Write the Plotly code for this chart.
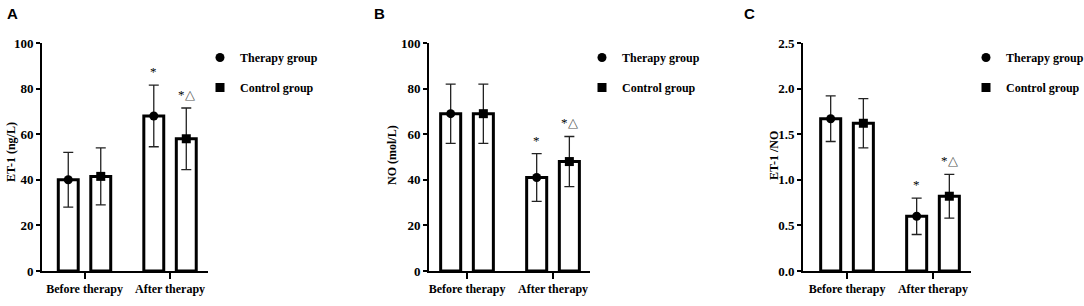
import plotly.graph_objects as go
import numpy as np

W, H = 1084, 306

categories = ["Before therapy", "After therapy"]
series_names = ["Therapy group", "Control group"]

# Panel A: ET-1 (ng/L)
et1_therapy = [40.0, 68.0]
et1_therapy_sd = [12.0, 13.5]
et1_control = [41.5, 58.0]
et1_control_sd = [12.5, 13.5]

# Panel B: NO (mol/L)
no_therapy = [69.0, 41.0]
no_therapy_sd = [13.0, 10.5]
no_control = [69.0, 48.0]
no_control_sd = [13.0, 11.0]

# Panel C: ET-1/NO
ratio_therapy = [1.67, 0.60]
ratio_therapy_sd = [0.25, 0.20]
ratio_control = [1.62, 0.82]
ratio_control_sd = [0.27, 0.24]

# significance marks (per category index): therapy, control
sig_therapy = ["", "*"]
sig_control = ["", "*<span style='color:#555'>△</span>"]

panels = [
    dict(letter="A", title="ET-1 (ng/L)", data=(et1_therapy, et1_therapy_sd, et1_control, et1_control_sd),
         yrange=[0, 100], dtick=20, fmt="d", px=(42, 208), xr=[-0.497, 1.444], title_x=11, title_y=152,
         letter_x=5, legend_x=221),
    dict(letter="B", title="NO (mol/L)", data=(no_therapy, no_therapy_sd, no_control, no_control_sd),
         yrange=[0, 100], dtick=20, fmt="d", px=(429, 590), xr=[-0.442, 1.43], title_x=392, title_y=155,
         letter_x=372, legend_x=603),
    dict(letter="C", title="ET-1 /NO", data=(ratio_therapy, ratio_therapy_sd, ratio_control, ratio_control_sd),
         yrange=[0, 2.5], dtick=0.5, fmt=".1f", px=(803, 971), xr=[-0.512, 1.442], title_x=774, title_y=156,
         letter_x=742, legend_x=987),
]

y_top, y_bot = 43, 271
ydom = [(H - y_bot) / H, (H - y_top) / H]

bar_w = 0.233
off = 0.19
serif = "Liberation Serif"

fig = go.Figure()
annotations = []
layout = {}

for i, p in enumerate(panels):
    k = "" if i == 0 else str(i + 1)
    xa, ya = "x" + k, "y" + k
    leg = "legend" + k
    t_mean, t_sd, c_mean, c_sd = p["data"]
    idx = np.arange(len(categories))
    for j, (mean, sd, sym) in enumerate([(t_mean, t_sd, "circle"), (c_mean, c_sd, "square")]):
        xpos = idx + (-off if j == 0 else off)
        fig.add_trace(go.Bar(
            x=xpos, y=mean, width=bar_w, xaxis=xa, yaxis=ya,
            marker=dict(color="white", line=dict(color="black", width=3)),
            error_y=dict(type="data", array=sd, visible=True, color="#222", thickness=1.3, width=5),
            showlegend=False, hoverinfo="skip"))
        fig.add_trace(go.Scatter(
            x=xpos, y=mean, mode="markers", xaxis=xa, yaxis=ya,
            marker=dict(symbol=sym, size=9, color="black"),
            name=series_names[j], legend=leg, legendgroup=f"{i}{j}", showlegend=True))
        sig = sig_therapy if j == 0 else sig_control
        for ci in idx:
            if sig[ci]:
                annotations.append(dict(
                    x=xpos[ci], y=mean[ci] + sd[ci], xref=xa, yref=ya, text=sig[ci],
                    showarrow=False, yanchor="bottom", yshift=4,
                    font=dict(family=serif, size=13, color="black")))
    x0, x1 = p["px"]
    axkey = "xaxis" + k
    aykey = "yaxis" + k
    layout[axkey] = dict(
        domain=[x0 / W, x1 / W], range=p["xr"], anchor=ya,
        tickmode="array", tickvals=list(idx), ticktext=categories,
        showline=True, linewidth=2, linecolor="black", ticks="outside", ticklen=6, tickwidth=2,
        tickcolor="black", showgrid=False, zeroline=False, fixedrange=True,
        tickfont=dict(family=serif, size=12, color="black", weight="bold"))
    layout[aykey] = dict(
        domain=ydom, range=p["yrange"], anchor=xa, dtick=p["dtick"], tickformat=p["fmt"],
        showline=True, linewidth=2, linecolor="black", ticks="outside", ticklen=4, tickwidth=2,
        tickcolor="black", showgrid=False, zeroline=False, fixedrange=True,
        tickfont=dict(family=serif, size=13, color="black", weight="bold"))
    layout[leg] = dict(
        x=(p["legend_x"] - 21) / W, y=(H - 43) / H, xanchor="left", yanchor="top",
        bgcolor="rgba(0,0,0,0)", borderwidth=0, tracegroupgap=11, traceorder="grouped",
        font=dict(family=serif, size=12, color="black", weight="bold"))
    annotations.append(dict(
        x=p["title_x"] / W, y=(H - p["title_y"]) / H, xref="paper", yref="paper",
        text=p["title"], textangle=-90, showarrow=False, xanchor="center", yanchor="middle",
        font=dict(family=serif, size=12, color="black", weight="bold")))
    annotations.append(dict(
        x=p["letter_x"] / W, y=(H - 14) / H, xref="paper", yref="paper",
        text=p["letter"], showarrow=False, xanchor="left", yanchor="middle",
        font=dict(family="Liberation Sans", size=15, color="black", weight="bold")))

fig.update_layout(
    width=W, height=H, margin=dict(l=0, r=0, t=0, b=0, autoexpand=False),
    paper_bgcolor="white", plot_bgcolor="white",
    barmode="overlay", annotations=annotations, **layout)

fig.write_html("out.html", config={"displayModeBar": False},
               post_script="document.body.style.margin='0';document.body.style.overflow='hidden';")
